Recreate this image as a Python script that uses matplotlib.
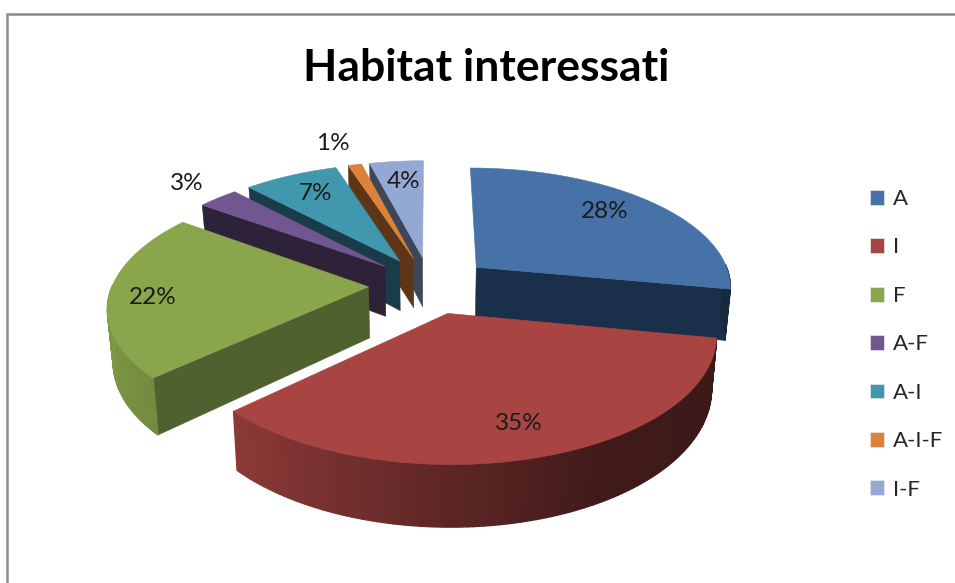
import numpy as np
import matplotlib
matplotlib.use("Agg")
import matplotlib.pyplot as plt
from matplotlib.colors import to_rgb
from matplotlib.patches import Patch, Polygon

plt.rcParams['font.family'] = ['Lato', 'DejaVu Sans']

# Data
categories = ['A', 'I', 'F', 'A-F', 'A-I', 'A-I-F', 'I-F']
percent = [28, 35, 22, 3, 7, 1, 4]
title = 'Habitat interessati'

# Colours
top_colors = ['#4672a8', '#a84543', '#8aa64c', '#725690', '#4097ae', '#dc823a', '#93a8d2']
wall_colors = ['#1a2f4a', '#421c19', '#4f612f', '#2e2238', '#1a3c48', '#5e3617', '#3d4759']

# Label anchor in pixels
label_x = [605, 519, 153, 187, 315, 333, 404]
label_y = [212, 424, 298, 183, 194, 143, 182]

# Perspective of the 3D pie, fitted by eye
cx, cy = 430, 285
radius_x, radius_y = 256, 119
persp = 0.15
depth = 51
explode = 0.24


def project(u, v, z=0.0):
    w = 1 + persp * v
    x = radius_x * u / w * (1 - 0.018 * z)
    y = -radius_y * v / w + depth * z / w
    return cx + x, cy + y


def add_poly(ax, x, y, color, lw=0.4):
    ax.add_patch(Polygon(np.column_stack([x, y]), closed=True, facecolor=color,
                         edgecolor=color, linewidth=lw))


def draw_slice(ax, t0, t1, top_color, wall_color):
    mid = (t0 + t1) / 2
    ou = explode * np.sin(mid)
    ov = explode * np.cos(mid)

    # radial walls, skip the ones turned away from the viewer
    for t, faces_front in ((t0, np.sin(t0) < -1e-6), (t1, np.sin(t1) > 1e-6)):
        if not faces_front:
            continue
        us = np.array([ou, ou + np.sin(t)])
        vs = np.array([ov, ov + np.cos(t)])
        x1, y1 = project(us, vs, 0)
        x2, y2 = project(us[::-1], vs[::-1], 1)
        add_poly(ax, np.r_[x1, x2], np.r_[y1, y2], wall_color)

    # outer wall, only the part facing the viewer, in thin shaded strips
    ts = np.linspace(t0, t1, max(int(np.degrees(t1 - t0)), 2) + 1)
    base = np.array(to_rgb(top_color))
    for a, b in zip(ts[:-1], ts[1:]):
        m = (a + b) / 2
        if np.cos(m) > 0.02:
            continue
        shade = np.interp(np.sin(m), [-1, -0.7, 0, 0.5, 1], [0.92, 0.82, 0.55, 0.38, 0.36])
        us = ou + np.sin([a, b])
        vs = ov + np.cos([a, b])
        x1, y1 = project(us, vs, 0)
        x2, y2 = project(us[::-1], vs[::-1], 1)
        add_poly(ax, np.r_[x1, x2], np.r_[y1, y2], tuple(base * shade), lw=1.0)

    # top face
    ts = np.linspace(t0, t1, 120)
    us = np.r_[ou, ou + np.sin(ts)]
    vs = np.r_[ov, ov + np.cos(ts)]
    x, y = project(us, vs, 0)
    add_poly(ax, x, y, top_color)


fig = plt.figure(figsize=(9.55, 5.83), dpi=100)
ax = fig.add_axes([0, 0, 1, 1])
ax.set_xlim(0, 955)
ax.set_ylim(583, 0)
ax.axis('off')

# Chart frame, cut by the screenshot on the right and bottom
ax.plot([7, 7, 955], [583, 14, 14], color='#8a8a8a', linewidth=1.8, solid_joinstyle='miter')

# Angles clockwise from 12 o'clock
shares = np.array(percent) / sum(percent) * 2 * np.pi
ends = np.cumsum(shares)
starts = ends - shares
mids = (starts + ends) / 2

# Paint from back to front
for i in np.argsort(-np.cos(mids)):
    draw_slice(ax, starts[i], ends[i], top_colors[i], wall_colors[i])

for p, x, y in zip(percent, label_x, label_y):
    ax.text(x, y, f'{p}%', ha='center', va='center', fontsize=17.5, color='#1a1a1a')

ax.text(486, 68, title, ha='center', va='center', fontsize=32, fontweight='bold', color='black')

handles = [Patch(facecolor=c, edgecolor='#e8e8e8', linewidth=0.5) for c in top_colors]
ax.legend(handles, categories, loc='upper left', bbox_to_anchor=(870, 189),
          bbox_transform=ax.transData, frameon=False, fontsize=16,
          labelspacing=1.28, handlelength=0.65, handleheight=0.65,
          handletextpad=0.4, borderaxespad=0, borderpad=0, labelcolor='#262626')

fig.savefig('out.png', dpi=100)
